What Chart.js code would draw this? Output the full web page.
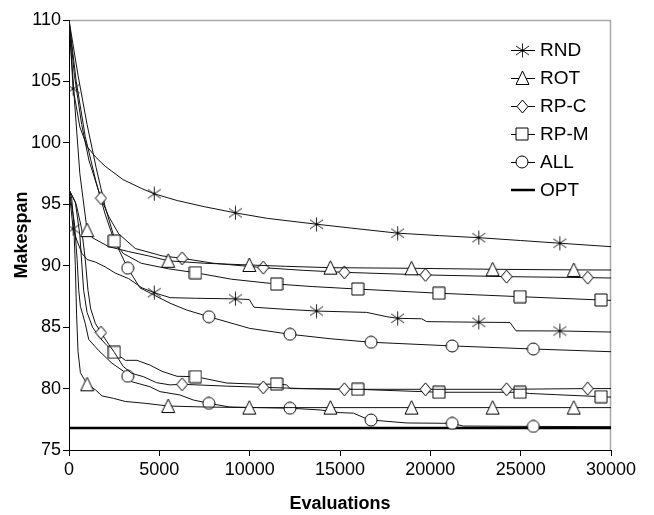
<!DOCTYPE html>
<html>
<head>
<meta charset="utf-8">
<script src="https://cdn.jsdelivr.net/npm/chart.js@4"></script>
<style>
  html, body { margin: 0; padding: 0; background: #fff; }
  #wrap { width: 654px; height: 515px; }
</style>
</head>
<body>
<div id="wrap"><canvas id="c" width="654" height="515"></canvas></div>
<script>
// Legend order of the search methods
const methods = ['RND', 'ROT', 'RP-C', 'RP-M', 'ALL'];

// Evaluations at which each method's samples carry a marker
const rndMarks = [230, 4720, 9210, 13700, 18190, 22680, 27170];
const rotMarks = [1000, 5490, 9980, 14470, 18960, 23450, 27940];
const rpcMarks = [1770, 6260, 10750, 15240, 19730, 24220, 28710];
const rpmMarks = [2510, 7000, 11490, 15980, 20470, 24960, 29450];
const allMarks = [3250, 7740, 12230, 16720, 21210, 25700];

// Best makespan vs. evaluations, [evaluations, makespan] — first instance
const rnd1 = [[0,110],[230,104.4],[600,101.3],[1000,99.7],[1500,98.8],[2000,98.1],[3000,97.0],[4000,96.3],[4720,95.85],[6000,95.3],[7500,94.8],[9210,94.3],[11000,93.85],[13700,93.38],[16000,93.0],[18190,92.65],[20500,92.45],[22680,92.28],[25000,92.05],[27170,91.83],[30000,91.55]];
const rot1 = [[0,110],[300,103.5],[600,97.5],[1000,92.9],[1270,92.3],[2200,91.55],[3300,91.15],[4400,90.8],[5490,90.4],[7500,90.2],[9980,90.06],[12000,89.95],[14470,89.84],[18960,89.79],[23450,89.71],[27940,89.66],[30000,89.65]];
const rpc1 = [[0,110],[300,105.5],[700,101.5],[1100,98.6],[1770,95.5],[2200,94.0],[2750,92.6],[3670,91.4],[5150,90.8],[6260,90.6],[8000,90.2],[10750,89.84],[13000,89.62],[15240,89.46],[19730,89.25],[24220,89.11],[28710,89.03],[30000,89.0]];
const rpm1 = [[0,110],[400,105],[900,100.5],[1500,96.8],[2000,94.2],[2510,92.0],[3000,91.0],[4000,90.2],[5500,89.75],[7000,89.43],[9000,88.9],[11490,88.51],[13500,88.3],[15980,88.1],[20470,87.76],[24960,87.48],[29450,87.21],[30000,87.18]];
const all1 = [[0,110],[500,105.5],[1000,101.5],[1500,98.0],[2000,94.8],[2600,91.8],[3250,89.8],[3930,88.2],[4720,87.6],[5590,86.95],[6500,86.4],[7740,85.85],[10000,84.9],[12230,84.42],[14500,84.05],[16720,83.77],[21210,83.47],[25700,83.22],[30000,83.0]];

// Second instance
const rnd2 = [[0,96.2],[230,93.0],[450,92.0],[720,91.0],[1000,90.5],[1460,90.3],[2010,89.9],[2560,89.4],[3300,88.95],[4040,88.2],[4720,87.8],[5600,87.4],[7000,87.35],[9210,87.3],[9980,87.25],[10240,86.62],[12000,86.45],[13700,86.31],[16480,86.2],[17590,85.85],[18190,85.72],[19520,85.68],[19800,85.45],[22680,85.4],[24410,85.38],[24740,84.7],[27170,84.69],[30000,84.6]];
const rot2 = [[0,96.2],[150,95.5],[260,93.5],[350,90.0],[420,86.0],[500,83.0],[630,81.3],[1000,80.35],[1460,79.9],[1830,79.4],[2470,79.2],[3120,78.95],[4220,78.8],[5490,78.58],[7500,78.5],[9980,78.45],[14470,78.45],[18960,78.45],[23450,78.45],[27940,78.45],[30000,78.45]];
const rpc2 = [[0,96.2],[400,95],[700,93],[900,90.5],[1050,88],[1200,86.5],[1460,85.3],[1770,84.55],[2200,83.6],[2510,82.95],[3000,81.8],[3470,81.24],[4110,80.97],[4850,80.48],[5590,80.3],[6260,80.35],[8700,80.2],[10750,80.1],[13000,80.0],[15240,79.94],[19730,79.94],[24220,79.94],[28710,80.0],[30000,80.0]];
const rpm2 = [[0,96.2],[350,95.2],[600,92.5],[810,88.0],[1000,86.2],[1300,85.0],[1730,84.1],[2100,83.5],[2510,82.95],[3120,82.3],[3760,82.3],[4500,81.9],[5150,81.4],[5980,81.0],[7000,80.97],[8730,80.45],[10570,80.35],[11490,80.37],[12050,80.3],[12230,80.0],[15980,79.94],[20470,79.7],[24960,79.7],[25500,79.6],[27000,79.5],[29450,79.34],[30000,79.3]];
const all2 = [[0,96.2],[300,93.5],[450,90.5],[540,88.0],[630,86.7],[900,85.3],[1090,84.0],[1640,83.1],[2380,82.06],[3030,81.4],[3250,81.0],[3470,80.56],[4480,80.15],[5040,79.75],[6140,79.48],[6880,79.07],[7740,78.8],[8900,78.5],[12230,78.4],[13900,78.26],[15000,78.04],[15740,78.0],[16380,77.6],[16720,77.44],[18700,77.2],[21210,77.17],[21820,76.95],[25700,76.92],[30000,76.9]];

// Optimal makespan
const optSpan = 76.8;
const evalRange = [0, 30000];
const spanRange = [75, 110];

const FONT = "'Liberation Sans', Arial, sans-serif";

// ---- marker glyphs (white-filled, black outline) ----
function glyph(w, h, paint) {
  const c = document.createElement('canvas');
  c.width = w; c.height = h;
  const g = c.getContext('2d');
  g.strokeStyle = '#000'; g.fillStyle = '#fff'; g.lineWidth = 1;
  paint(g);
  return c;
}
const markerGlyph = {
  'RND': glyph(15, 15, g => {
    g.strokeStyle = '#222';
    g.beginPath();
    g.moveTo(7.5, 0.5); g.lineTo(7.5, 14.5);
    g.moveTo(1, 3); g.lineTo(14, 12);
    g.moveTo(1, 12); g.lineTo(14, 3);
    g.stroke();
    g.fillStyle = '#000'; g.fillRect(6.5, 6.5, 2, 2);
  }),
  'ROT': glyph(15, 16, g => {
    g.beginPath(); g.moveTo(7.5, 1); g.lineTo(14, 14.5); g.lineTo(1, 14.5); g.closePath();
    g.fill(); g.stroke();
  }),
  'RP-C': glyph(13, 15, g => {
    g.beginPath(); g.moveTo(6.5, 1); g.lineTo(12, 7.5); g.lineTo(6.5, 14); g.lineTo(1, 7.5); g.closePath();
    g.fill(); g.stroke();
  }),
  'RP-M': glyph(14, 14, g => {
    g.beginPath(); g.rect(1, 1, 12, 12); g.fill(); g.stroke();
  }),
  'ALL': glyph(14, 14, g => {
    g.beginPath(); g.arc(7, 7, 6, 0, Math.PI * 2); g.fill(); g.stroke();
  })
};
const markLists = { 'RND': rndMarks, 'ROT': rotMarks, 'RP-C': rpcMarks, 'RP-M': rpmMarks, 'ALL': allMarks };

function curve(method, pts, inLegend) {
  const marks = markLists[method];
  return {
    label: method,
    data: pts.map(p => ({ x: p[0], y: p[1] })),
    showLine: true,
    borderColor: '#111',
    borderWidth: 1,
    tension: 0,
    pointStyle: markerGlyph[method],
    pointRadius: ctx => (ctx.raw && marks.includes(ctx.raw.x)) ? 6 : 0,
    pointHoverRadius: 0,
    inLegend
  };
}

const datasets = [
  curve('RND', rnd1, true), curve('ROT', rot1, true), curve('RP-C', rpc1, true),
  curve('RP-M', rpm1, true), curve('ALL', all1, true),
  curve('RND', rnd2, false), curve('ROT', rot2, false), curve('RP-C', rpc2, false),
  curve('RP-M', rpm2, false), curve('ALL', all2, false),
  {
    label: 'OPT',
    data: [{ x: evalRange[0], y: optSpan }, { x: evalRange[1], y: optSpan }],
    showLine: true, borderColor: '#000', borderWidth: 2.5, pointRadius: 0, inLegend: true
  }
];

// Grey frame on top/right and the in-plot key
const framePlugin = {
  id: 'frameAndKey',
  beforeDatasetsDraw(chart) {
    const { ctx, chartArea: a } = chart;
    ctx.save();
    ctx.strokeStyle = '#a8a8a8';
    ctx.lineWidth = 1.5;
    ctx.beginPath();
    ctx.moveTo(a.left, a.top + 0.5); ctx.lineTo(a.right - 0.5, a.top + 0.5); ctx.lineTo(a.right - 0.5, a.bottom);
    ctx.stroke();
    ctx.restore();
  },
  afterDraw(chart) {
    const { ctx } = chart;
    const x0 = 511, x1 = 535, mx = 522, tx = 540, y0 = 50, dy = 28;
    ctx.save();
    ctx.font = '19px ' + FONT;
    ctx.fillStyle = '#000';
    ctx.textBaseline = 'middle';
    const items = methods.concat(['OPT']);
    items.forEach((name, i) => {
      const y = Math.round(y0 + i * dy);
      ctx.strokeStyle = '#000';
      ctx.lineWidth = name === 'OPT' ? 2.5 : 1;
      ctx.beginPath();
      ctx.moveTo(x0, y + (name === 'OPT' ? 0 : 0.5));
      ctx.lineTo(x1, y + (name === 'OPT' ? 0 : 0.5));
      ctx.stroke();
      const gl = markerGlyph[name];
      if (gl) ctx.drawImage(gl, Math.round(mx - gl.width / 2), Math.round(y - gl.height / 2));
      ctx.fillText(name, tx, y + 1);
    });
    ctx.restore();
  }
};

new Chart(document.getElementById('c'), {
  type: 'scatter',
  data: { datasets },
  options: {
    responsive: false,
    devicePixelRatio: 1,
    animation: false,
    events: [],
    layout: { padding: { top: 20, right: 43, left: 0, bottom: 0 } },
    plugins: { legend: { display: false }, tooltip: { enabled: false } },
    scales: {
      x: {
        type: 'linear',
        min: evalRange[0], max: evalRange[1],
        afterFit: s => { s.height = 65; },
        border: { display: true, color: '#000', width: 1 },
        grid: { drawOnChartArea: false, drawTicks: true, tickLength: 6, color: '#000' },
        ticks: { stepSize: 5000, color: '#000', font: { family: FONT, size: 18 }, padding: 3, maxRotation: 0, callback: v => String(v) },
        title: { display: true, text: 'Evaluations', color: '#000', font: { family: FONT, size: 18, weight: 'bold' }, padding: { top: 0, bottom: 0 } }
      },
      y: {
        type: 'linear',
        min: spanRange[0], max: spanRange[1],
        afterFit: s => { s.width = 69; },
        border: { display: true, color: '#000', width: 1 },
        grid: { drawOnChartArea: false, drawTicks: true, tickLength: 6, color: '#000' },
        ticks: { stepSize: 5, color: '#000', font: { family: FONT, size: 18 }, padding: 2, callback: v => String(v) },
        title: { display: true, text: 'Makespan', color: '#000', font: { family: FONT, size: 18, weight: 'bold' }, padding: { top: 11, bottom: 0 } }
      }
    }
  },
  plugins: [framePlugin]
});
</script>
</body>
</html>
